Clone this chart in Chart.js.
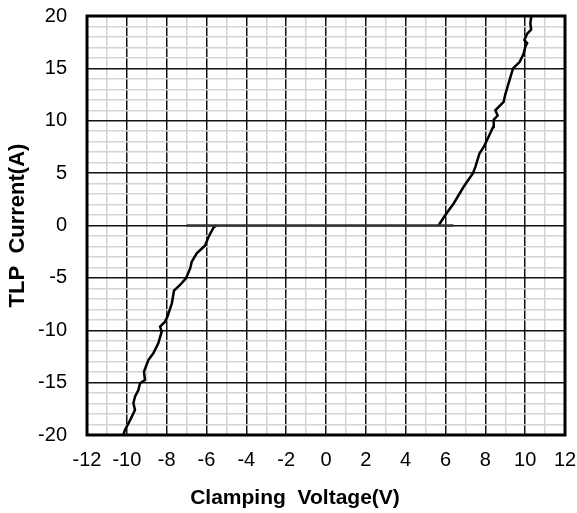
<!DOCTYPE html>
<html>
<head>
<meta charset="utf-8">
<script src="https://cdn.jsdelivr.net/npm/chart.js@4.4.1/dist/chart.umd.min.js"></script>
<style>
  body { margin: 0; background: #fff; }
  #wrap { width: 577px; height: 513px; }
</style>
</head>
<body>
<div id="wrap"><canvas id="tlp" width="577" height="513"></canvas></div>
<script>
// values
const baseVoltage = [-7.0, 6.4];
const baseCurrent = [0, 0];

const posVoltage = [5.65, 5.99, 6.41, 6.91, 7.38, 7.5, 7.71, 7.92, 8.17, 8.39, 8.42, 8.62, 8.5,
  8.92, 9.0, 9.17, 9.39, 9.72, 9.92, 10.01, 10.1, 9.96, 10.1, 10.3, 10.26, 10.31];
const posCurrent = [0, 1.0, 2.1, 3.7, 5.0, 5.6, 6.9, 7.5, 8.5, 9.4, 10.1, 10.5, 11.0,
  11.8, 12.5, 13.6, 15.0, 15.6, 16.4, 17.1, 17.4, 17.7, 18.3, 18.7, 19.3, 20];

const negVoltage = [-5.5, -5.65, -5.9, -6.07, -6.49, -6.74, -6.82, -7.03, -7.33, -7.63, -7.74,
  -7.96, -8.08, -8.33, -8.25, -8.42, -8.67, -8.92, -9.14, -9.09, -9.34, -9.42, -9.59, -9.67,
  -9.59, -9.75, -9.92, -10.09, -10.18];
const negCurrent = [0, -0.2, -1.1, -1.9, -2.65, -3.45, -4.1, -5.04, -5.68, -6.22, -7.43,
  -8.7, -9.18, -9.66, -10.14, -11.25, -12.2, -12.84, -13.96, -14.75, -15.07, -15.7, -16.34, -16.97,
  -17.6, -18.25, -18.9, -19.5, -20];

const xTitle = 'Clamping  Voltage(V)';
const yTitle = 'TLP  Current(A)';

const pts = (xs, ys) => xs.map((x, i) => ({ x, y: ys[i] }));

const MAJOR = '#111';
const MINOR = '#d4d4d4';

Chart.defaults.font.family = '"Liberation Sans", Arial, sans-serif';
Chart.defaults.color = '#000';

// thick box round the plot + x axis title (sits left of the plot centre in the original)
const frame = {
  id: 'frame',
  afterDraw(chart) {
    const { ctx, chartArea: a } = chart;
    ctx.save();
    ctx.strokeStyle = '#000';
    ctx.lineWidth = 3;
    ctx.strokeRect(a.left, a.top, a.right - a.left, a.bottom - a.top);
    ctx.font = 'bold 21px "Liberation Sans", Arial, sans-serif';
    ctx.fillStyle = '#000';
    ctx.textAlign = 'center';
    ctx.textBaseline = 'middle';
    ctx.fillText(xTitle, 295, 498);
    ctx.restore();
  }
};

const line = (data, color) => ({
  data,
  showLine: true,
  borderColor: color,
  borderWidth: 2.5,
  pointRadius: 0,
  tension: 0,
  fill: false
});

new Chart(document.getElementById('tlp'), {
  type: 'scatter',
  data: {
    datasets: [
      line(pts(baseVoltage, baseCurrent), '#333'),
      line(pts(posVoltage, posCurrent), '#000'),
      line(pts(negVoltage, negCurrent), '#000')
    ]
  },
  options: {
    responsive: false,
    animation: false,
    layout: { padding: { top: 16, right: 12, left: 0, bottom: 0 } },
    plugins: { legend: { display: false }, tooltip: { enabled: false } },
    scales: {
      x: {
        type: 'linear',
        min: -12,
        max: 12,
        afterFit: (s) => { s.height = 78; s.paddingLeft = 0; s.paddingRight = 0; },
        border: { display: false },
        grid: {
          drawTicks: false,
          color: (c) => (c.tick.value % 2 === 0 ? MAJOR : MINOR),
          lineWidth: 1.5
        },
        ticks: {
          stepSize: 1,
          autoSkip: false,
          maxRotation: 0,
          minRotation: 0,
          padding: 13,
          font: { size: 20 },
          callback: (v) => (v % 2 === 0 ? String(v) : '')
        }
      },
      y: {
        min: -20,
        max: 20,
        afterFit: (s) => { s.width = 87; s.paddingTop = 0; s.paddingBottom = 0; },
        border: { display: false },
        grid: {
          drawTicks: false,
          color: (c) => (c.tick.value % 5 === 0 ? MAJOR : MINOR),
          lineWidth: 1.5
        },
        ticks: {
          stepSize: 1,
          autoSkip: false,
          padding: 20,
          font: { size: 20 },
          callback: (v) => (v % 5 === 0 ? String(v) : '')
        },
        title: {
          display: true,
          text: yTitle,
          font: { size: 22, weight: 'bold' },
          padding: { top: 5, bottom: 0 }
        }
      }
    }
  },
  plugins: [frame]
});
</script>
</body>
</html>
